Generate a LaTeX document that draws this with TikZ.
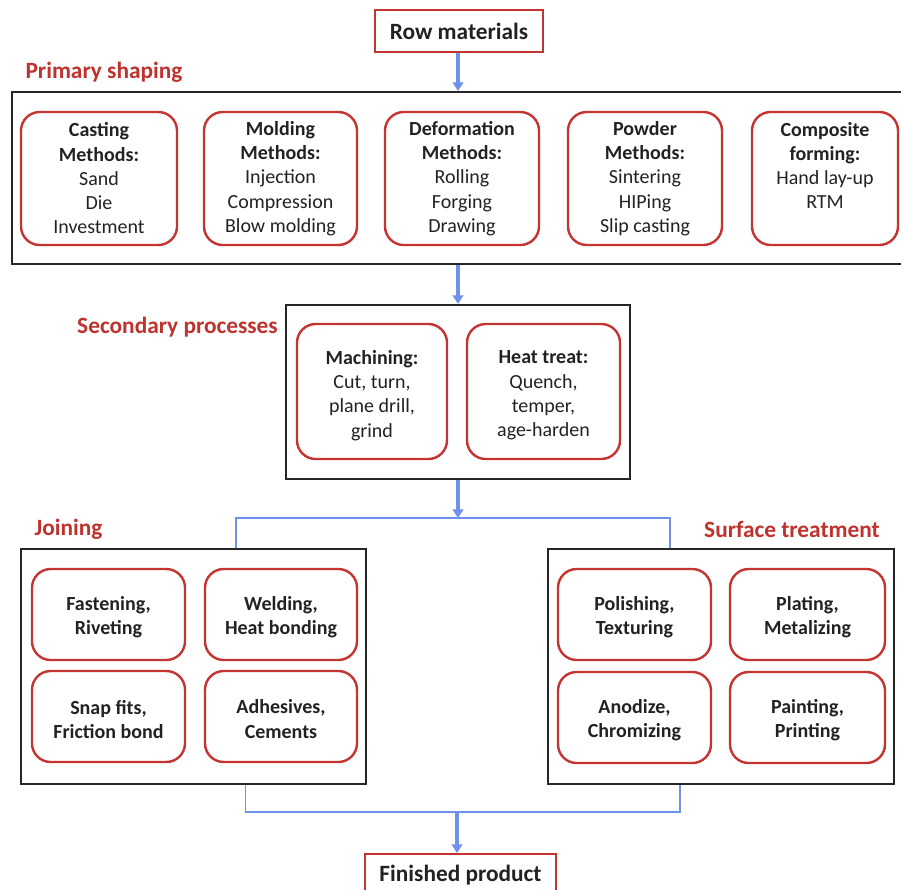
\documentclass[tikz,border=0pt]{standalone}
\usepackage{fontspec}
\setmainfont{Carlito}
\usetikzlibrary{fit,arrows.meta}
\definecolor{boxred}{RGB}{196,52,48}
\definecolor{hdred}{RGB}{192,50,45}
\definecolor{conblue}{RGB}{110,145,235}
\definecolor{txt}{RGB}{34,34,34}
\tikzset{
  outerbox/.style={draw=black!85, line width=1.6pt, inner sep=0pt},
  redbox/.style={draw=boxred, line width=1.8pt, rounded corners=14pt, inner sep=0pt},
  topbox/.style={draw=boxred, line width=1.5pt, inner sep=0pt, fill=white},
  itemtxt/.style={text=txt, font=\fontsize{15}{18.2}\selectfont, align=center, inner sep=0pt},
  boldtxt/.style={text=txt, font=\fontsize{15}{18.2}\selectfont\bfseries, align=center, inner sep=0pt, yshift=-2pt},
  bigtxt/.style={text=txt, font=\fontsize{17.5}{21}\selectfont\bfseries, align=center, inner sep=0pt},
  hdtxt/.style={text=hdred, font=\fontsize{17.5}{21}\selectfont\bfseries, inner sep=0pt},
  arr/.style={draw=conblue, line width=2.7pt, -{Triangle[width=8pt,length=6.5pt]}},
  thin/.style={draw=conblue, line width=0.8pt},
}
\begin{document}
\begin{tikzpicture}[x=0.75pt,y=-0.75pt]
\useasboundingbox (0,0) rectangle (901,890);
\clip (0,0) rectangle (901,890);

% top box
\node[topbox, fit={(375,10)(543,52)}] (row) {};
\node[bigtxt] (rowt) at (459,31) {Row materials};

% primary shaping
\node[hdtxt] (hprim) at (104,72) {Primary shaping};
\node[outerbox, fit={(12,92)(904,264)}] (prim) {};
\node[redbox, fit={(21,112)(177,245)}] (cast) {};
\node[redbox, fit={(204,112)(357,245)}] (mold) {};
\node[redbox, fit={(385,112)(539,245)}] (defo) {};
\node[redbox, fit={(568,112)(722,245)}] (powd) {};
\node[redbox, fit={(752,112)(898,245)}] (comp) {};
\node[itemtxt] (castt) at (cast.center) {\textbf{Casting}\\\textbf{Methods:}\\Sand\\Die\\Investment};
\node[itemtxt] (moldt) at (mold.center) {\textbf{Molding}\\\textbf{Methods:}\\Injection\\Compression\\Blow molding};
\node[itemtxt] (defot) at (defo.center) {\textbf{Deformation}\\\textbf{Methods:}\\Rolling\\Forging\\Drawing};
\node[itemtxt] (powdt) at (powd.center) {\textbf{Powder}\\\textbf{Methods:}\\Sintering\\HIPing\\Slip casting};
\node[itemtxt, yshift=-2pt] (compt) at (comp.center) {\textbf{Composite}\\\textbf{forming:}\\Hand lay-up\\RTM\\\strut};

% secondary
\node[hdtxt] (hsec) at (177.5,327) {Secondary processes};
\node[outerbox, fit={(286,305)(630,479)}] (sec) {};
\node[redbox, fit={(297,324)(447,459)}] (mach) {};
\node[redbox, fit={(467,324)(620,459)}] (heat) {};
\node[itemtxt, yshift=-3pt] (macht) at (mach.center) {\textbf{Machining:}\\Cut, turn,\\plane drill,\\grind};
\node[itemtxt, yshift=-3pt] (heatt) at (heat.center) {\textbf{Heat treat:}\\Quench,\\temper,\\age-harden};

% joining
\node[hdtxt] (hjoin) at (68.5,529) {Joining};
\node[outerbox, fit={(21,549)(366,784)}] (join) {};
\node[redbox, fit={(32,569)(185,660)}] (fast) {};
\node[redbox, fit={(205,569)(357,660)}] (weld) {};
\node[redbox, fit={(32,671)(185,762)}] (snap) {};
\node[redbox, fit={(205,671)(357,762)}] (adhe) {};
\node[boldtxt] (fastt) at (fast.center) {Fastening,\\Riveting};
\node[boldtxt] (weldt) at (weld.center) {Welding,\\Heat bonding};
\node[boldtxt] (snapt) at (snap.center) {Snap fits,\\Friction bond};
\node[boldtxt] (adhet) at (adhe.center) {Adhesives,\\Cements};

% surface
\node[hdtxt] (hsurf) at (792,529) {Surface treatment};
\node[outerbox, fit={(548,549)(894,784)}] (surf) {};
\node[redbox, fit={(558,569)(711,660)}] (poli) {};
\node[redbox, fit={(730,569)(885,660)}] (plat) {};
\node[redbox, fit={(558,672)(711,763)}] (anod) {};
\node[redbox, fit={(730,672)(885,763)}] (pain) {};
\node[boldtxt] (polit) at (poli.center) {Polishing,\\Texturing};
\node[boldtxt] (platt) at (plat.center) {Plating,\\Metalizing};
\node[boldtxt] (anodt) at (anod.center) {Anodize,\\Chromizing};
\node[boldtxt] (paint) at (pain.center) {Painting,\\Printing};

% finished
\node[topbox, fit={(365,854)(556,910)}] (fin) {};
\node[bigtxt] (fint) at (460.5,875) {Finished product};

% connectors
\coordinate (ax) at (458,0);
\coordinate (s1) at (458,518);
\coordinate (jl) at (236,518);
\coordinate (sr) at (670,518);
\coordinate (b1) at (457,812);
\coordinate (bl) at (245.5,812);
\coordinate (br) at (680,812);

\draw[arr] (row.south -| ax) -- (prim.north -| ax);
\draw[arr] (prim.south -| ax) -- (sec.north -| ax);
\draw[thin] (jl |- join.north) -- (jl) -- (sr) -- (sr |- surf.north);
\draw[arr] (sec.south -| ax) -- (s1);
\draw[thin] (bl |- join.south) -- (bl) -- (br) -- (br |- surf.south);
\draw[arr] (b1) -- (fin.north -| b1);
\end{tikzpicture}
\end{document}
